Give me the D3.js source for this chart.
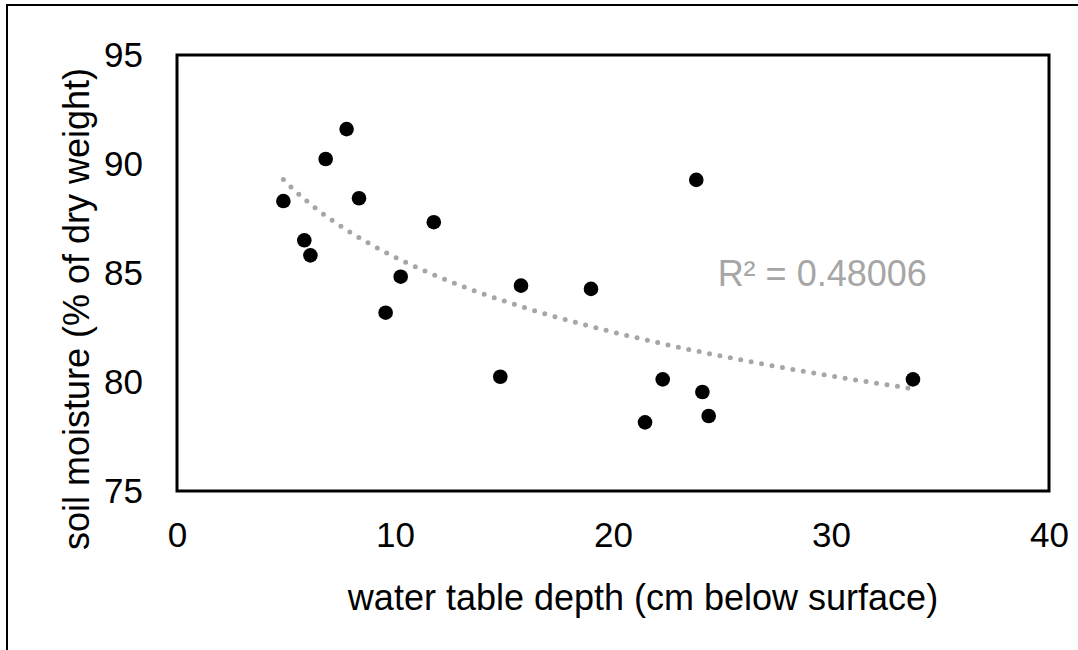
<!DOCTYPE html>
<html>
<head>
<meta charset="utf-8">
<script src="https://cdn.jsdelivr.net/npm/d3@7"></script>
<style>
  body { margin: 0; background: #fff; }
  svg { display: block; font-family: "Liberation Sans", Arial, sans-serif; }
</style>
</head>
<body>
<svg id="svg" width="1078" height="650"></svg>
<script>
// water table depth (cm below surface)
var depth = [4.88, 5.84, 6.12, 6.82, 7.78, 8.35, 9.57, 10.26, 11.78, 14.83,
             15.78, 18.99, 21.47, 22.28, 23.82, 24.10, 24.39, 33.76];
// soil moisture (% of dry weight)
var moisture = [88.30, 86.50, 85.81, 90.23, 91.60, 88.43, 83.18, 84.83, 87.33, 80.24,
                84.42, 84.27, 78.15, 80.12, 89.27, 79.54, 78.44, 80.12];

var xTicks = [0, 10, 20, 30, 40];
var yTicks = [75, 80, 85, 90, 95];
var r2Label = "R² = 0.48006";

var svg = d3.select("svg"),
    margin = {top: 55, right: 29, bottom: 159, left: 177},
    width = 1078 - margin.left - margin.right,
    height = 650 - margin.top - margin.bottom;

// outer chart frame (cropped at right / bottom)
svg.append("rect")
    .attr("x", 7).attr("y", 5)
    .attr("width", 1200).attr("height", 800)
    .attr("fill", "none")
    .attr("stroke", "#000")
    .attr("stroke-width", 2);

var g = svg.append("g").attr("transform", "translate(" + margin.left + "," + margin.top + ")");

var x = d3.scaleLinear().domain([0, 40]).range([0, width]);
var y = d3.scaleLinear().domain([75, 95]).range([height, 0]);

// x axis labels
var xAxis = g.append("g")
    .attr("transform", "translate(0," + height + ")")
    .call(d3.axisBottom(x).tickValues(xTicks).tickSize(0).tickPadding(31));
xAxis.select(".domain").remove();
xAxis.selectAll("text")
    .attr("font-size", 35)
    .attr("font-family", "Liberation Sans, Arial, sans-serif")
    .attr("fill", "#000");

// y axis labels
var yAxis = g.append("g")
    .call(d3.axisLeft(y).tickValues(yTicks).tickSize(0).tickPadding(34));
yAxis.select(".domain").remove();
yAxis.selectAll("text")
    .attr("font-size", 35)
    .attr("font-family", "Liberation Sans, Arial, sans-serif")
    .attr("fill", "#000");

// plot frame
g.append("rect")
    .attr("width", width)
    .attr("height", height)
    .attr("fill", "none")
    .attr("stroke", "#000")
    .attr("stroke-width", 3);

// logarithmic trendline fitted to the points
var lx = depth.map(function (d) { return Math.log(d); });
var mx = d3.mean(lx), my = d3.mean(moisture);
var sxy = d3.sum(lx, function (d, i) { return (d - mx) * (moisture[i] - my); });
var sxx = d3.sum(lx, function (d) { return (d - mx) * (d - mx); });
var b = sxy / sxx, a = my - b * mx;

var xs = d3.extent(depth);
var trend = d3.range(0, 101).map(function (i) {
    var xv = xs[0] + (xs[1] - xs[0]) * i / 100;
    return {x: xv, y: a + b * Math.log(xv)};
});

var line = d3.line()
    .x(function (d) { return x(d.x); })
    .y(function (d) { return y(d.y); });

g.append("path")
    .datum(trend)
    .attr("fill", "none")
    .attr("stroke", "#a6a6a6")
    .attr("stroke-width", 5)
    .attr("stroke-linecap", "round")
    .attr("stroke-dasharray", "0 10.6")
    .attr("d", line);

// points
g.selectAll(".dot")
    .data(depth)
    .enter().append("circle")
    .attr("class", "dot")
    .attr("cx", function (d) { return x(d); })
    .attr("cy", function (d, i) { return y(moisture[i]); })
    .attr("r", 7.3)
    .attr("fill", "#000");

// R² label
g.append("text")
    .attr("x", x(24.8))
    .attr("y", y(85.0))
    .attr("dy", "0.35em")
    .attr("font-size", 36)
    .attr("fill", "#a6a6a6")
    .text(r2Label);

// axis titles
svg.append("text")
    .attr("x", 643)
    .attr("y", 610)
    .attr("text-anchor", "middle")
    .attr("font-size", 36)
    .attr("fill", "#000")
    .text("water table depth (cm below surface)");

svg.append("text")
    .attr("transform", "translate(89,309) rotate(-90)")
    .attr("text-anchor", "middle")
    .attr("font-size", 36)
    .attr("fill", "#000")
    .text("soil moisture (% of dry weight)");
</script>
</body>
</html>
